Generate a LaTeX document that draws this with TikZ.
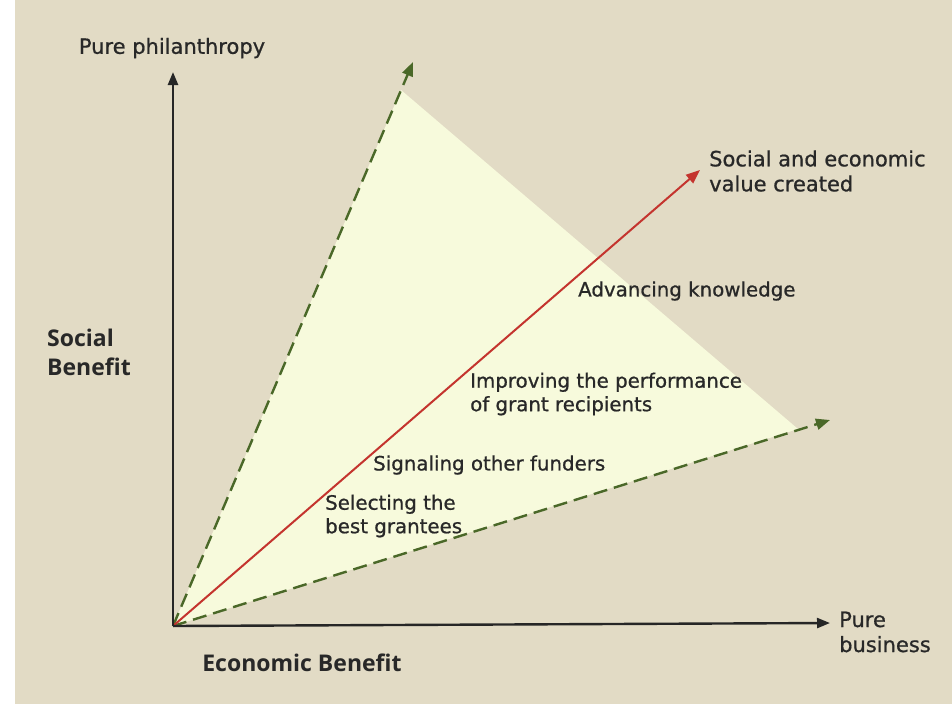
\documentclass[tikz,border=0pt]{standalone}
\usepackage{fontspec}
\setmainfont{Open Sans}
\newfontfamily\stepfont[FakeBold=0.8]{DejaVu Sans}
\usetikzlibrary{arrows.meta}

\definecolor{paper}{RGB}{226,219,197}
\definecolor{wedge}{RGB}{247,250,220}
\definecolor{dashgreen}{RGB}{74,104,40}
\definecolor{valuered}{RGB}{196,52,46}
\definecolor{inkgray}{RGB}{40,40,40}

\tikzset{
  axisarrow/.style={line width=2.4pt, black!85, -{Triangle[length=13pt,width=10pt]}},
  limitarrow/.style={line width=2.4pt, dashgreen, dash pattern=on 14pt off 7pt, -{Triangle[length=14pt,width=11pt]}},
  valuearrow/.style={line width=2pt, valuered, -{Triangle[length=14pt,width=11pt]}},
  steplabel/.style={anchor=west, align=left, text=inkgray, font=\stepfont\fontsize{19.8}{23.5}\selectfont, inner sep=0pt},
  endlabel/.style={steplabel, font=\stepfont\fontsize{21}{25}\selectfont},
  axislabel/.style={text=inkgray, align=left, font=\fontsize{23}{29}\selectfont\bfseries, inner sep=0pt}
}

\begin{document}
\begin{tikzpicture}[x=1pt,y=-1pt]
% page and background
\useasboundingbox (0,0) rectangle (952,704);
\fill[white] (0,0) rectangle (952,704);
\fill[paper] (15,0) rectangle (952,704);

% key points
\coordinate (origin) at (173,626);
\coordinate (philtip) at (173,72);
\coordinate (bustip) at (830,623);
\coordinate (uppertip) at (413,62);
\coordinate (lowertip) at (830,420);
\coordinate (valuetip) at (700,170);

% the wedge of value
\fill[wedge] (origin) -- (401,90) -- (798,429) -- cycle;

% edge and value arrows
\draw[limitarrow] (origin) -- (uppertip);
\draw[limitarrow] (origin) -- (lowertip);
\draw[valuearrow] (origin) -- (valuetip);

% axes
\draw[axisarrow] (origin) -- (philtip);
\draw[axisarrow] (origin) -- (bustip);

% axis texts
\node[endlabel, anchor=center] (philanthropy) at (172,48) {Pure philanthropy};
\node[endlabel] (business) at (839,632) {Pure\\business};
\node[axislabel, anchor=west] (socialben) at (47,352) {Social\\Benefit};
\node[axislabel] (econben) at (302,663) {Economic Benefit};

% steps along the red arrow
\node[endlabel] (valuecreated) at (709,171) {Social and economic\\value created};
\node[steplabel] (knowledge) at (578,291) {Advancing knowledge};
\node[steplabel] (performance) at (470,394) {Improving the performance\\of grant recipients};
\node[steplabel] (signaling) at (373,465) {Signaling other funders};
\node[steplabel] (selecting) at (325,516) {Selecting the\\best grantees};
\end{tikzpicture}
\end{document}
